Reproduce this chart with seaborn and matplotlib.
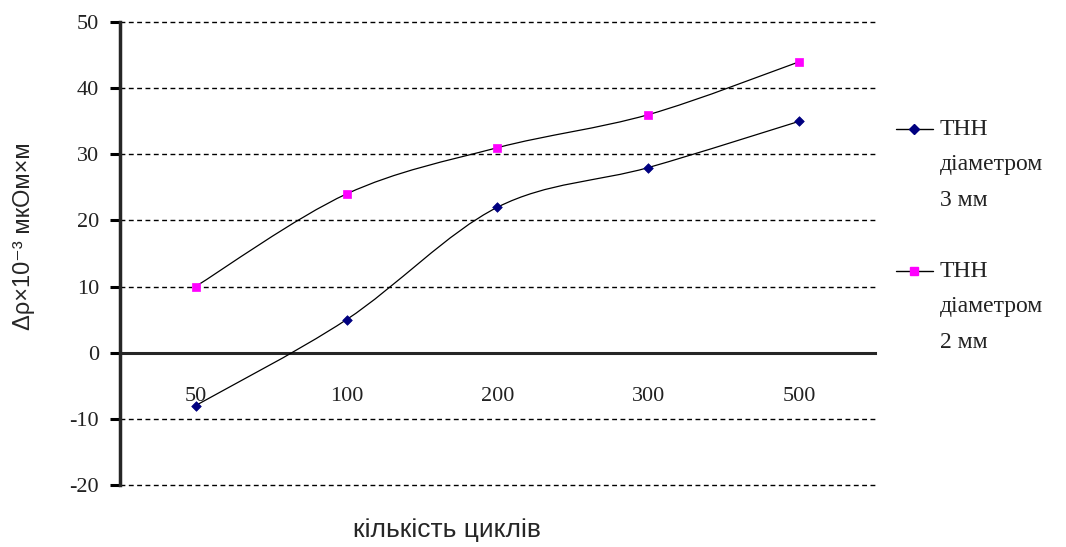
import numpy as np
import pandas as pd
import matplotlib
matplotlib.use("Agg")
import matplotlib.pyplot as plt
import seaborn as sns
from matplotlib.path import Path
from matplotlib.patches import PathPatch
from matplotlib.lines import Line2D
from matplotlib.ticker import FixedLocator

categories = ["50", "100", "200", "300", "500"]
series_3mm = [-8, 5, 22, 28, 35]
series_2mm = [10, 24, 31, 36, 44]
label_3mm = "ТНН\nдіаметром\n3 мм"
label_2mm = "ТНН\nдіаметром\n2 мм"
y_ticks = [-20, -10, 0, 10, 20, 30, 40, 50]
color_3mm = "#000080"
color_2mm = "#FF00FF"

sns.set_style("white")
plt.rcParams["font.family"] = ["Liberation Serif", "DejaVu Serif"]

fig = plt.figure(figsize=(10.66, 5.47), dpi=100)
ax = fig.add_axes([120/1066, 1-485/547, (875-120)/1066, (485-22)/547])

def smooth_path(xs, ys):
    pts = np.column_stack([xs, ys]).astype(float)
    n = len(pts)
    verts = [pts[0]]
    codes = [Path.MOVETO]
    for i in range(n-1):
        p0 = pts[i-1] if i > 0 else pts[i]
        p1 = pts[i]
        p2 = pts[i+1]
        p3 = pts[i+2] if i+2 < n else pts[i+1]
        c1 = p1 + (p2 - p0) / 6.0
        c2 = p2 - (p3 - p1) / 6.0
        verts += [c1, c2, p2]
        codes += [Path.CURVE4]*3
    return Path(verts, codes)

df = pd.DataFrame({
    "cycles": categories*2,
    "value": series_3mm + series_2mm,
    "series": [label_3mm]*5 + [label_2mm]*5,
})

xpos = np.arange(len(categories))
for vals in (series_3mm, series_2mm):
    ax.add_patch(PathPatch(smooth_path(xpos, vals), fill=False, edgecolor="black", lw=0.9, zorder=3))

sns.scatterplot(data=df[df.series == label_3mm], x="cycles", y="value", marker="D", s=24,
                color=color_3mm, edgecolor=color_3mm, linewidth=0.5, ax=ax, zorder=4, legend=False)
sns.scatterplot(data=df[df.series == label_2mm], x="cycles", y="value", marker="s", s=38,
                color=color_2mm, edgecolor=color_2mm, linewidth=0.5, ax=ax, zorder=4, legend=False)

ax.set_xlim(-0.5, len(categories)-0.5)
ax.set_ylim(-20, 50)
ax.set_yticks(y_ticks)
ax.set_yticklabels([str(v) for v in y_ticks], fontsize=16, color="#222222")
for v in y_ticks:
    if v != 0:
        ax.axhline(v, color="black", lw=1.0, ls=(0, (3.5, 2.5)), zorder=1, clip_on=False)

ax.spines["top"].set_visible(False)
ax.spines["right"].set_visible(False)
ax.spines["left"].set_linewidth(2.5)
ax.spines["bottom"].set_position(("data", 0))
ax.spines["bottom"].set_linewidth(2.2)

ax.set_xticks(xpos)
ax.set_xticklabels(categories, fontsize=16, color="#222222")
ax.xaxis.set_minor_locator(FixedLocator(np.arange(0.5, len(categories)-0.5, 1.0)))
ax.tick_params(axis="x", which="major", length=0, pad=25)
ax.tick_params(axis="x", which="minor", direction="out", length=7, width=2.2, color="black")
ax.tick_params(axis="y", direction="out", length=7, width=2.2, color="black", pad=8, left=True)

ax.set_xlabel("")
ax.set_ylabel("Δρ×10⁻³ мкОм×м", fontsize=17, family=["Liberation Sans", "DejaVu Sans"])
ax.yaxis.set_label_coords((35-120)/755, (485-236)/463)
fig.text(447/1066, 1-530/547, "кількість циклів", ha="center", va="center", fontsize=19,
         family=["Liberation Sans", "DejaVu Sans"])

# legend
for (ytop, col, mk, ms, lab) in [(129, color_3mm, "D", 5, label_3mm), (271, color_2mm, "s", 6, label_2mm)]:
    yf = 1 - ytop/547
    fig.add_artist(Line2D([896/1066, 933/1066], [yf, yf], color="black", lw=1.0))
    fig.add_artist(Line2D([914/1066], [yf], color=col, marker=mk, markersize=ms, lw=0,
                          markerfacecolor=col, markeredgecolor=col))
    fig.text(940/1066, yf + 10/547, lab, ha="left", va="top", fontsize=17, color="#222222",
             linespacing=1.9)

fig.savefig("out.png", dpi=100)
